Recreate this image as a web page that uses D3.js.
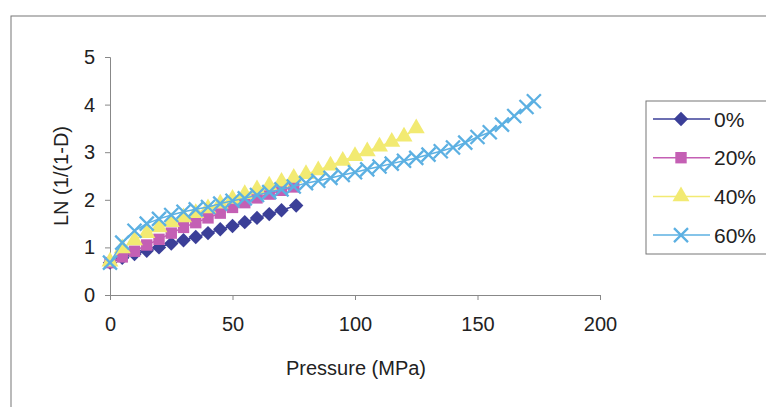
<!DOCTYPE html>
<html><head><meta charset="utf-8">
<script src="https://cdn.jsdelivr.net/npm/d3@7"></script>
<style>body{margin:0;background:#fff}svg{display:block}text{font-family:"Liberation Sans",Arial,sans-serif;fill:#222}</style>
</head><body>
<svg id="c" width="766" height="407"></svg>
<script>
const seriesNames = ["0%", "20%", "40%", "60%"];
const colors = ["#3b3f98", "#c45fb4", "#f2ea72", "#5cb0e2"];
const xTicks = [0, 50, 100, 150, 200];
const yTicks = [0, 1, 2, 3, 4, 5];

const s0x = [0,5,10,15,20,25,30,35,40,45,50,55,60,65,70,76];
const s0y = [0.68,0.78,0.86,0.93,1.0,1.08,1.15,1.22,1.3,1.38,1.45,1.53,1.62,1.7,1.78,1.88];
const s1x = [0,5,10,15,20,25,30,35,40,45,50,55,60,65,70,75];
const s1y = [0.68,0.8,0.92,1.05,1.17,1.3,1.42,1.52,1.62,1.72,1.84,1.94,2.04,2.12,2.2,2.27];
const s2x = [0,5,10,15,20,25,30,35,40,45,50,55,60,65,70,75,80,85,90,95,100,105,110,115,120,125];
const s2y = [0.7,0.98,1.15,1.3,1.42,1.53,1.63,1.72,1.82,1.92,2.02,2.12,2.22,2.3,2.38,2.46,2.54,2.62,2.72,2.82,2.92,3.02,3.12,3.22,3.33,3.5];
const s3x = [0,5,10,15,20,25,30,35,40,45,50,55,60,65,70,75,80,85,90,95,100,105,110,115,120,125,130,135,140,145,150,155,160,165,170,173];
const s3y = [0.68,1.1,1.35,1.5,1.6,1.68,1.75,1.8,1.85,1.92,1.98,2.03,2.1,2.16,2.22,2.28,2.35,2.4,2.46,2.52,2.58,2.64,2.7,2.76,2.82,2.88,2.95,3.02,3.1,3.2,3.32,3.42,3.58,3.76,3.95,4.07];

const series = [[s0x,s0y],[s1x,s1y],[s2x,s2y],[s3x,s3y]].map((s,i)=>({name:seriesNames[i],color:colors[i],pts:s[0].map((x,j)=>[x,s[1][j]])}));

const svg = d3.select("#c");
svg.append("rect").attr("x",11).attr("y",16).attr("width",780).attr("height",420).attr("fill","none").attr("stroke","#777").attr("stroke-width",1);

const x = d3.scaleLinear().domain([0,200]).range([110,600]);
const y = d3.scaleLinear().domain([0,5]).range([295,57]);

const axisColor = "#888";
const fs = 20;
const gx = svg.append("g").attr("transform","translate(0,295)").call(d3.axisBottom(x).tickValues(xTicks).tickSize(5).tickPadding(17).tickFormat(d3.format("d")));
const gy = svg.append("g").attr("transform","translate(110,0)").call(d3.axisLeft(y).tickValues(yTicks).tickSize(5).tickPadding(10).tickFormat(d3.format("d")));
[gx,gy].forEach(g=>{
  g.selectAll(".domain").attr("stroke",axisColor);
  g.selectAll(".tick line").attr("stroke",axisColor);
  g.selectAll(".tick text").attr("font-size",fs).attr("fill","#222").attr("font-family","Liberation Sans, Arial, sans-serif");
});

svg.append("text").attr("x",356).attr("y",375).attr("text-anchor","middle").attr("font-size",fs).text("Pressure (MPa)");
svg.append("text").attr("transform","translate(68,176) rotate(-90)").attr("text-anchor","middle").attr("font-size",fs).text("LN (1/(1-D)");

function symPath(i){
  if(i===0){ const r=7.2; return `M0,${-r}L${r},0L0,${r}L${-r},0Z`; }
  if(i===1){ const r=5.7; return `M${-r},${-r}H${r}V${r}H${-r}Z`; }
  if(i===2){ return d3.symbol().type(d3.symbolTriangle).size(125)(); }
  const r = 7;
  return `M${-r},${-r}L${r},${r}M${-r},${r}L${r},${-r}`;
}

const line = d3.line().x(d=>x(d[0])).y(d=>y(d[1]));
series.forEach((s,i)=>{
  const g = svg.append("g");
  g.append("path").attr("d",line(s.pts)).attr("fill","none").attr("stroke",s.color).attr("stroke-width",1.5);
  g.selectAll("path.m").data(s.pts).join("path").attr("class","m")
    .attr("transform",d=>`translate(${x(d[0])},${y(d[1])})`)
    .attr("d",symPath(i))
    .attr("fill", i===3 ? "none" : s.color)
    .attr("stroke", i===3 ? s.color : "none")
    .attr("stroke-width", 2.3);
});

const lg = svg.append("g");
lg.append("rect").attr("x",646).attr("y",101).attr("width",140).attr("height",153).attr("fill","#fff").attr("stroke","#777");
series.forEach((s,i)=>{
  const yy = 119 + i*38.7;
  lg.append("line").attr("x1",653).attr("x2",710).attr("y1",yy).attr("y2",yy).attr("stroke",s.color).attr("stroke-width",1.5);
  lg.append("path").attr("transform",`translate(681,${yy})`).attr("d",symPath(i))
    .attr("fill", i===3 ? "none" : s.color).attr("stroke", i===3 ? s.color : "none").attr("stroke-width",2.3);
  lg.append("text").attr("x",714).attr("y",yy+7.5).attr("font-size",21).text(s.name);
});
</script>
</body></html>
